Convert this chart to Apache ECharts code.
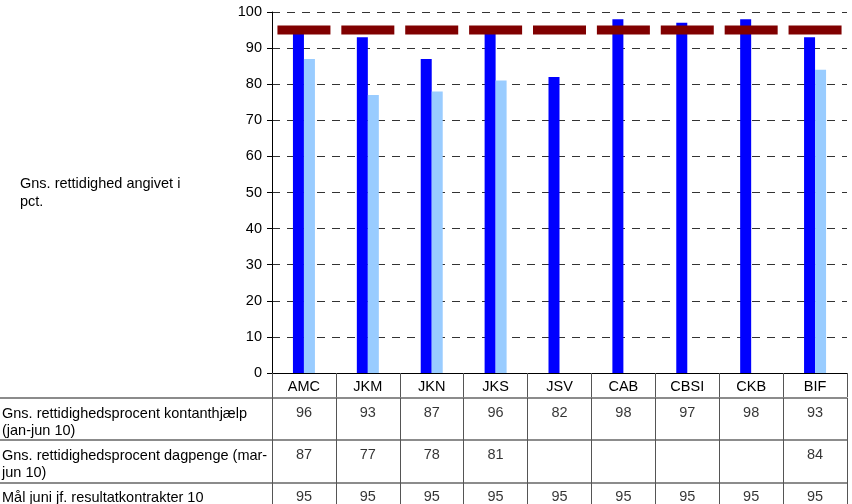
<!DOCTYPE html>
<html>
<head>
<meta charset="utf-8">
<script src="https://cdn.jsdelivr.net/npm/echarts@6/dist/echarts.min.js"></script>
<style>
html,body{margin:0;padding:0;background:#fff;}
#c{width:852px;height:504px;}
</style>
</head>
<body>
<div id="c"></div>
<script>
const categories = ['AMC','JKM','JKN','JKS','JSV','CAB','CBSI','CKB','BIF'];
const kontanthjaelp = [96,93,87,96,82,98,97,98,93];
const dagpenge = [87,77,78,81,null,null,null,null,84];
const maal = [95,95,95,95,95,95,95,95,95];
const rowLabels = [
  'Gns. rettidighedsprocent kontanthjælp\n(jan-jun 10)',
  'Gns. rettidighedsprocent dagpenge (mar-\njun 10)',
  'Mål juni jf. resultatkontrakter 10'
];
const yTitle = 'Gns. rettidighed angivet i\npct.';
const yTicks = {min:0, max:100, interval:10};

const FONT = '"Liberation Sans", Arial, sans-serif';
const FS = 14.5;
const ROW_H = 42.3;
const TABLE_TOP = 397.7;
const rows = [kontanthjaelp, dagpenge, maal];
const tableData = [];
rows.forEach((arr, r) => arr.forEach((v, i) => { if (v !== null) tableData.push([i, r, v]); }));

const chart = echarts.init(document.getElementById('c'), null, {renderer:'canvas'});
chart.setOption({
  animation:false,
  textStyle:{fontFamily:FONT, color:'#000'},
  grid:[
    {left:272, right:5, top:12, height:361, containLabel:false, outerBoundsMode:'none'},
    {left:272, right:5, top:TABLE_TOP, height:rows.length * ROW_H, containLabel:false, outerBoundsMode:'none'}
  ],
  xAxis:[
    {type:'category', gridIndex:0, data:categories, boundaryGap:true,
     axisLine:{show:true, lineStyle:{color:'#000', width:1}},
     axisTick:{show:true, length:24, interval:0, alignWithLabel:false, lineStyle:{color:'#555'}},
     axisLabel:{margin:6, fontSize:FS, color:'#000', fontFamily:FONT, interval:0},
     splitLine:{show:false}},
    {type:'category', gridIndex:1, data:categories, boundaryGap:true, position:'top',
     axisLine:{show:false}, axisTick:{show:false}, axisLabel:{show:false},
     splitLine:{show:true, interval:0, lineStyle:{color:'#555', width:1}}}
  ],
  yAxis:[
    {type:'value', gridIndex:0, min:yTicks.min, max:yTicks.max, interval:yTicks.interval,
     name:yTitle, nameLocation:'middle', nameRotate:0, nameGap:252,
     nameTextStyle:{align:'left', verticalAlign:'middle', fontSize:FS, lineHeight:18, color:'#000', fontFamily:FONT},
     axisLine:{show:true, lineStyle:{color:'#000'}},
     axisTick:{show:true, length:5, lineStyle:{color:'#000'}},
     axisLabel:{margin:10, fontSize:FS, color:'#000', fontFamily:FONT},
     splitLine:{show:true, lineStyle:{color:'#333', type:[8,7], width:1}}},
    {type:'value', gridIndex:1, min:0, max:rows.length, interval:1, inverse:true,
     axisLine:{show:true, lineStyle:{color:'#555'}},
     axisTick:{show:true, length:272, lineStyle:{color:'#666', width:1.5}},
     axisLabel:{show:true, showMinLabel:true, showMaxLabel:true, hideOverlap:false,
       align:'left', verticalAlign:'top', margin:270, fontSize:FS, lineHeight:17,
       color:'#000', fontFamily:FONT, padding:[7.5,0,0,0],
       formatter:v => rowLabels[v] || ''},
     splitLine:{show:true, lineStyle:{color:'#666', width:1.5}}}
  ],
  series:[
    {type:'bar', name:'kontanthjælp', xAxisIndex:0, yAxisIndex:0, data:kontanthjaelp,
     barWidth:11, barGap:'0%', itemStyle:{color:'#0000FF'}},
    {type:'bar', name:'dagpenge', xAxisIndex:0, yAxisIndex:0, data:dagpenge,
     barWidth:11, barGap:'0%', itemStyle:{color:'#99CCFF'}},
    {type:'scatter', name:'mål', xAxisIndex:0, yAxisIndex:0, data:maal, z:5,
     symbol:'rect', symbolSize:[53,9], itemStyle:{color:'#800000', opacity:1}},
    {type:'scatter', name:'table', xAxisIndex:1, yAxisIndex:1, data:tableData,
     symbolSize:1, itemStyle:{color:'rgba(0,0,0,0)'}, z:10,
     label:{show:true, position:'bottom', distance:6, fontSize:FS, lineHeight:17, color:'#000', fontFamily:FONT,
       formatter:p => String(p.value[2])}}
  ]
});
</script>
</body>
</html>
